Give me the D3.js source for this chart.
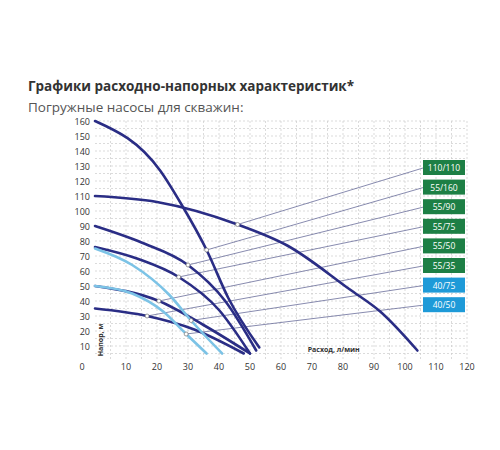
<!DOCTYPE html>
<html><head><meta charset="utf-8">
<script src="https://cdn.jsdelivr.net/npm/d3@7"></script>
<style>body{margin:0;background:#fff;font-family:"Open Sans",sans-serif}</style>
</head><body><svg id="c" width="500" height="450"></svg>
<script>
const models = ['110/110', '55/160', '55/90', '55/75', '55/50', '55/35', '40/75', '40/50'];
const tagKind = ['g', 'g', 'g', 'g', 'g', 'g', 'b', 'b'];
const curves = [
  [[0,110],[20,106],[46,91],[62,77],[82,48],[92,33],[104,7]],
  [[0,160],[21,127],[28,104],[36,74],[43,42],[53,9]],
  [[0,90],[15,79],[30,64],[42,40],[52,7]],
  [[0,76],[14,68],[27,56],[40,34],[50,5]],
  [[0,50],[20.6,40],[35,24],[50,5]],
  [[0,35],[16.8,30],[32,21],[48,5]],
  [[0,75],[12,64],[24,44],[31,27],[41,5]],
  [[0,50],[12,45],[22,33],[29.4,18],[36,5]]
];
const markers = [[46,91],[36,74],[30,64],[27,56],[20.6,40],[16.8,30],[31,27],[29.4,18]];
const xTicks = [0,10,20,30,40,50,60,70,80,90,100,110,120];
const yTicks = [10,20,30,40,50,60,70,80,90,100,110,120,130,140,150,160];

const svg = d3.select('#c');
const x = d3.scaleLinear().domain([0,120]).range([95,467]);
const y = d3.scaleLinear().domain([0,160]).range([361,121]);

svg.append('text').attr('x',28).attr('y',91).attr('font-size',13.5).attr('font-weight','bold').attr('fill','#333')
  .text('Графики расходно-напорных характеристик*');
svg.append('text').attr('x',28).attr('y',112).attr('font-size',13.5).attr('fill','#555')
  .text('Погружные насосы для скважин:');

// grid
const grid = svg.append('g').attr('stroke','#ccc').attr('stroke-dasharray','2,2').attr('stroke-width',0.7);
d3.range(5,121,5).forEach(v => grid.append('line').attr('x1',x(v)).attr('x2',x(v)).attr('y1',y(160)).attr('y2',y(0)));
d3.range(5,161,5).forEach(v => grid.append('line').attr('x1',x(0)).attr('x2',x(120)).attr('y1',y(v)).attr('y2',y(v)));

svg.append('g').selectAll('text').data(yTicks).join('text')
  .attr('x',90).attr('y',d => y(d)+3.5).attr('text-anchor','end').attr('font-size',9).attr('fill','#333').text(d => d);
svg.append('g').selectAll('text').data(xTicks).join('text')
  .attr('x',d => d === 0 ? 82 : x(d)).attr('y',370).attr('text-anchor','middle').attr('font-size',9).attr('fill','#333').text(d => d);

svg.append('text').attr('transform',`translate(${x(2)+2},${y(14)}) rotate(-90)`).attr('text-anchor','middle')
  .attr('font-size',7).attr('font-weight','bold').attr('fill','#333').text('Напор, м');
svg.append('text').attr('x',x(77)).attr('y',y(6)).attr('text-anchor','middle')
  .attr('font-size',7).attr('font-weight','bold').attr('fill','#333').text('Расход, л/мин');

const line = d3.line().x(d => x(d[0])).y(d => y(d[1])).curve(d3.curveMonotoneX);
const tagY = i => 168 + i*19.6;

// leader lines
svg.append('g').selectAll('line').data(markers).join('line')
  .attr('x1',d => x(d[0])).attr('y1',d => y(d[1])).attr('x2',423).attr('y2',(d,i) => tagY(i))
  .attr('stroke','#6a6d9a').attr('stroke-width',0.8);

svg.append('g').selectAll('path').data(curves).join('path')
  .attr('d',line).attr('fill','none').attr('stroke-width',2.6).attr('stroke-linecap','round')
  .attr('stroke',(d,i) => tagKind[i] === 'b' ? '#7cc3e6' : '#2a2d85');

svg.append('g').selectAll('circle').data(markers).join('circle')
  .attr('cx',d => x(d[0])).attr('cy',d => y(d[1])).attr('r',2)
  .attr('fill','#fff').attr('stroke','#777').attr('stroke-width',0.7);

const tags = svg.append('g').selectAll('g').data(models).join('g')
  .attr('transform',(d,i) => `translate(423,${tagY(i)-8})`);
tags.append('rect').attr('width',42).attr('height',15)
  .attr('fill',(d,i) => tagKind[i] === 'b' ? '#1e9ad8' : '#1d7f45');
tags.append('text').attr('x',21).attr('y',11).attr('text-anchor','middle')
  .attr('font-size',8.5).attr('fill','#fff').text(d => d);
</script></body></html>
